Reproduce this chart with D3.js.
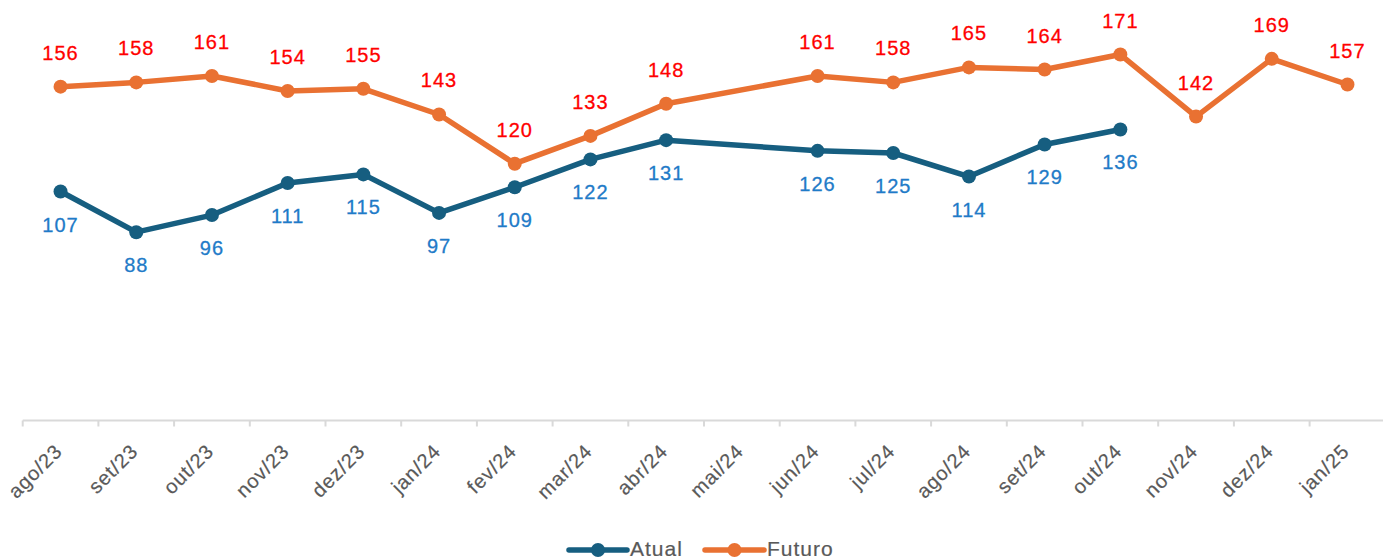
<!DOCTYPE html>
<html>
<head>
<meta charset="utf-8">
<script src="https://cdn.jsdelivr.net/npm/d3@7"></script>
<style>
  html, body { margin: 0; padding: 0; background: #fff; }
  svg { display: block; font-family: "Liberation Sans", Arial, sans-serif; }
</style>
</head>
<body>
<svg id="chart" width="1383" height="558"></svg>
<script>
const categories = ["ago/23","set/23","out/23","nov/23","dez/23","jan/24","fev/24","mar/24","abr/24","mai/24","jun/24","jul/24","ago/24","set/24","out/24","nov/24","dez/24","jan/25"];
const atual  = [107, 88, 96, 111, 115, 97, 109, 122, 131, null, 126, 125, 114, 129, 136, null, null, null];
const futuro = [156, 158, 161, 154, 155, 143, 120, 133, 148, null, 161, 158, 165, 164, 171, 142, 169, 157];
const seriesNames = ["Atual", "Futuro"];

const W = 1383, H = 558;
const svg = d3.select("#chart");

const x = d3.scaleBand().domain(categories).range([22.7, 1385.3]).padding(0);
const y = d3.scaleLinear().domain([0, 200]).range([420.5, -7.5]);

const colors = { Atual: "#165E80", Futuro: "#E97132" };
const labelColors = { Atual: "#1F7BC8", Futuro: "#FF0000" };

// axis
const axisG = svg.append("g").attr("transform", `translate(0,${y(0)})`);
axisG.append("line")
  .attr("x1", x.range()[0]).attr("x2", x.range()[1])
  .attr("y1", 0).attr("y2", 0)
  .attr("stroke", "#D9D9D9").attr("stroke-width", 2);
axisG.selectAll("line.tick").data(categories).enter().append("line")
  .attr("class", "tick")
  .attr("x1", d => x(d)).attr("x2", d => x(d))
  .attr("y1", 0).attr("y2", 6)
  .attr("stroke", "#D9D9D9").attr("stroke-width", 2);
axisG.selectAll("text.tl").data(categories).enter().append("text")
  .attr("class", "tl")
  .attr("transform", d => `translate(${x(d) + x.bandwidth()/2 - 2},${27}) rotate(-45)`)
  .attr("text-anchor", "end")
  .attr("dy", "0.35em")
  .attr("fill", "#595959")
  .attr("stroke", "#595959").attr("stroke-width", 0.2)
  .attr("font-size", 20)
  .attr("letter-spacing", 0.9)
  .text(d => d);

function drawSeries(name, values, labelAbove) {
  const pts = categories.map((c, i) => ({ c, v: values[i] })).filter(d => d.v != null);
  const line = d3.line().x(d => x(d.c) + x.bandwidth()/2).y(d => y(d.v));
  const g = svg.append("g");
  g.append("path").datum(pts)
    .attr("d", line).attr("fill", "none")
    .attr("stroke", colors[name]).attr("stroke-width", 5.5)
    .attr("stroke-linejoin", "round").attr("stroke-linecap", "round");
  g.selectAll("circle").data(pts).enter().append("circle")
    .attr("cx", d => x(d.c) + x.bandwidth()/2)
    .attr("cy", d => y(d.v))
    .attr("r", 7)
    .attr("fill", colors[name]);
  g.selectAll("text").data(pts).enter().append("text")
    .attr("x", d => x(d.c) + x.bandwidth()/2)
    .attr("y", d => y(d.v) + (labelAbove ? -27 : 40))
    .attr("text-anchor", "middle")
    .attr("fill", labelColors[name])
    .attr("stroke", labelColors[name]).attr("stroke-width", 0.3)
    .attr("font-size", 20)
    .attr("letter-spacing", 1)
    .text(d => d.v);
}
drawSeries("Futuro", futuro, true);
drawSeries("Atual", atual, false);

// legend
const legendItems = [
  { name: "Atual", x0: 569, x1: 627, tx: 630 },
  { name: "Futuro", x0: 705, x1: 764, tx: 767 }
];
const lg = svg.append("g");
legendItems.forEach(it => {
  lg.append("line").attr("x1", it.x0).attr("x2", it.x1).attr("y1", 550).attr("y2", 550)
    .attr("stroke", colors[it.name]).attr("stroke-width", 5.5).attr("stroke-linecap", "round");
  lg.append("circle").attr("cx", (it.x0 + it.x1)/2).attr("cy", 550).attr("r", 7).attr("fill", colors[it.name]);
  lg.append("text").attr("x", it.tx).attr("y", 555.5)
    .attr("fill", "#595959").attr("stroke", "#595959").attr("stroke-width", 0.2)
    .attr("font-size", 21).attr("letter-spacing", 1)
    .text(it.name);
});
</script>
</body>
</html>
